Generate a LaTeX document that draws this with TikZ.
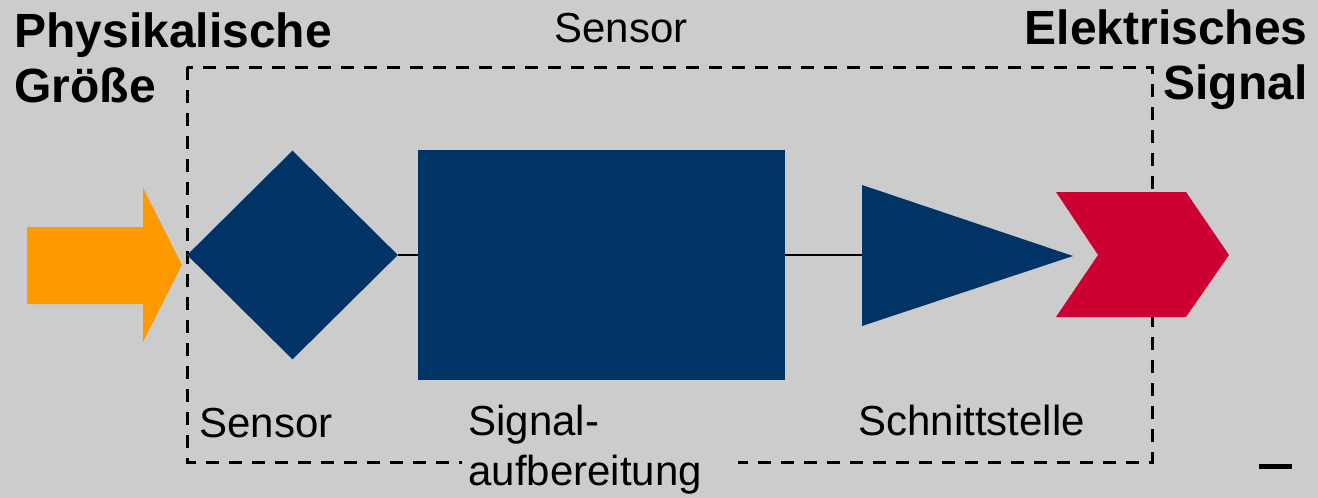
\documentclass[tikz,border=0pt]{standalone}
\usepackage{fontspec}
\setmainfont{Liberation Sans}
\usetikzlibrary{shapes.geometric}
\definecolor{bg}{HTML}{CCCCCC}
\definecolor{navy}{HTML}{003366}
\definecolor{amber}{HTML}{FF9900}
\definecolor{crimson}{HTML}{CC0033}
\begin{document}
\begin{tikzpicture}[x=0.5pt,y=-0.5pt,
  boldtext/.style={font=\bfseries\fontsize{24}{27.5}\selectfont, inner sep=0pt},
  plaintext/.style={font=\fontsize{21}{25}\selectfont, inner sep=0pt},
  frame/.style={draw=black, line width=1.5pt, dash pattern=on 6.5pt off 5pt},
  conn/.style={draw=black, line width=1pt},
  shapefill/.style={fill=navy, draw=none}]
\fill[bg] (0,0) rectangle (1318,498);
\useasboundingbox (0,0) rectangle (1318,498);
% dashed sensor frame
\draw[frame] (187,67) rectangle (1152,462);
% input arrow
\fill[amber] (27,227) -- (143,227) -- (143,188) -- (182,265) -- (143,342) -- (143,304) -- (27,304) -- cycle;
\coordinate (arrowtip) at (182,265);
% sensor element
\node[diamond, shapefill, minimum width=105.5pt, minimum height=104.5pt, inner sep=0pt] (sensor) at (292.5,255) {};
% signal conditioning
\node[rectangle, shapefill, minimum width=183.5pt, minimum height=115pt, inner sep=0pt] (box) at (601.5,265) {};
% interface triangle
\fill[navy] (862,185) -- (1073,256) -- (862,326) -- cycle;
\coordinate (tri) at (862,255);
% output chevron
\fill[crimson] (1056,192) -- (1186,192) -- (1229,255) -- (1186,317) -- (1056,317) -- (1098,255) -- cycle;
% connectors
\draw[conn] (sensor.east) -- (sensor.east -| box.west);
\draw[conn] (sensor.east -| box.east) -- (tri);
% labels
\node[boldtext, anchor=base west, align=left] (phys) at (14,102) {Physikalische\\Größe};
\node[boldtext, anchor=base east, align=right] (elek) at (1308,99) {Elektrisches\\Signal};
\node[plaintext, anchor=base] (title) at (621,42) {Sensor};
\node[plaintext, anchor=base west] (lsensor) at (199,437) {Sensor};
\node[plaintext, anchor=base west] (lschnitt) at (858,435) {Schnittstelle};
\node[plaintext, anchor=base west, align=left, fill=bg, text width=132pt, inner xsep=3pt] (lsignal) at (462,435) {Signal-\\aufbereitung};
% stray mark
\fill[black] (1259,464) rectangle (1292,469);
\end{tikzpicture}
\end{document}
